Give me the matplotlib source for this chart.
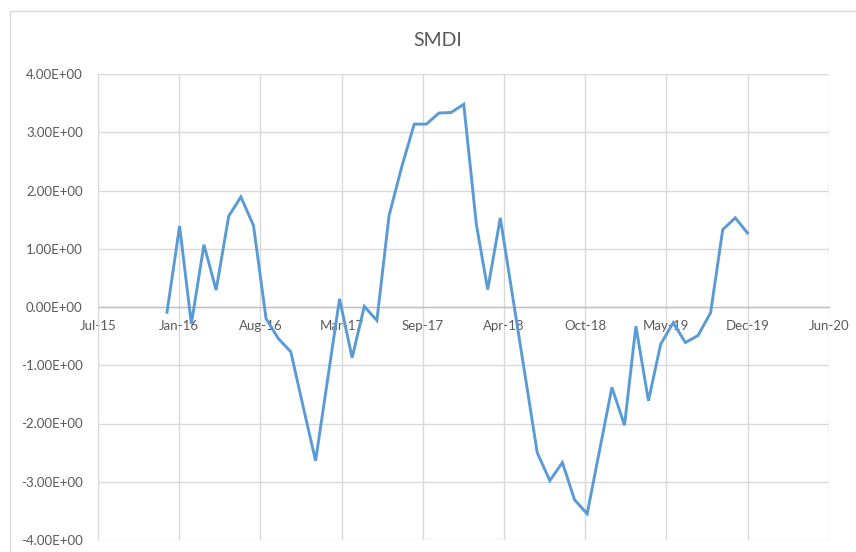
import matplotlib
matplotlib.use("Agg")
import matplotlib.pyplot as plt
import matplotlib.dates as mdates
from matplotlib.patches import Rectangle
from datetime import datetime, timedelta

plt.rcParams['font.family'] = ['Lato', 'DejaVu Sans']

title = "SMDI"
start_month = (2016, 1)
smdi = [
    -0.09, 1.39, -0.29, 1.07, 0.29, 1.56, 1.89, 1.40, -0.20, -0.54, -0.77, -1.70,   # 2016
    -2.64, -1.18, 0.14, -0.87, 0.01, -0.23, 1.57, 2.40, 3.14, 3.14, 3.33, 3.34,     # 2017
    3.48, 1.42, 0.30, 1.53, 0.20, -1.17, -2.50, -2.98, -2.67, -3.31, -3.55, -2.48,  # 2018
    -1.38, -2.03, -0.33, -1.61, -0.64, -0.27, -0.61, -0.49, -0.10, 1.33, 1.53, 1.27 # 2019
]
y_ticks = [-4, -3, -2, -1, 0, 1, 2, 3, 4]
x_start = datetime(2015, 7, 15)
x_step_days = 200
n_xticks = 10

dates = []
y, m = start_month
for _ in smdi:
    dates.append(datetime(y, m, 1))
    m += 1
    if m > 12:
        m = 1
        y += 1

xticks = [x_start + timedelta(days=x_step_days * k) for k in range(n_xticks)]

W, H = 856, 552
fig = plt.figure(figsize=(W / 100, H / 100), dpi=100)
fig.patch.set_facecolor('white')

# chart border (Excel chart area)
fig.add_artist(Rectangle((10 / W, -0.1), 1.2, 1.1 - 11 / H + 0.0, transform=fig.transFigure,
                         fill=False, edgecolor='#d9d9d9', linewidth=1.0, clip_on=False))

left, right, top, bottom = 98, 828.7, 74, 540
ax = fig.add_axes([left / W, (H - bottom) / H, (right - left) / W, (bottom - top) / H])

ax.plot(dates, smdi, color='#5B9BD5', linewidth=2.1, solid_joinstyle='miter', zorder=3)

ax.set_xlim(xticks[0], xticks[-1])
ax.set_ylim(y_ticks[0], y_ticks[-1])
ax.set_xticks(xticks)
ax.xaxis.set_major_formatter(mdates.DateFormatter('%b-%y'))
ax.set_yticks(y_ticks)
ax.set_yticklabels(['{:.2E}'.format(v) for v in y_ticks])

ax.grid(True, color='#d9d9d9', linewidth=1.0, zorder=0)
ax.set_axisbelow(True)
for s in ['top', 'right']:
    ax.spines[s].set_visible(False)
ax.spines['left'].set_color('#d9d9d9')
ax.spines['bottom'].set_position(('data', 0))
ax.spines['bottom'].set_color('#bfbfbf')
ax.spines['bottom'].set_linewidth(1.0)
ax.spines['bottom'].set_zorder(2)

ax.tick_params(axis='both', length=0, labelsize=9.5, labelcolor='#595959')
ax.tick_params(axis='x', pad=9)
ax.tick_params(axis='y', pad=11)

fig.text(438 / W, 1 - 40 / H, title, ha='center', va='center', fontsize=14, color='#595959')

fig.savefig('out.png', dpi=100, facecolor='white')
